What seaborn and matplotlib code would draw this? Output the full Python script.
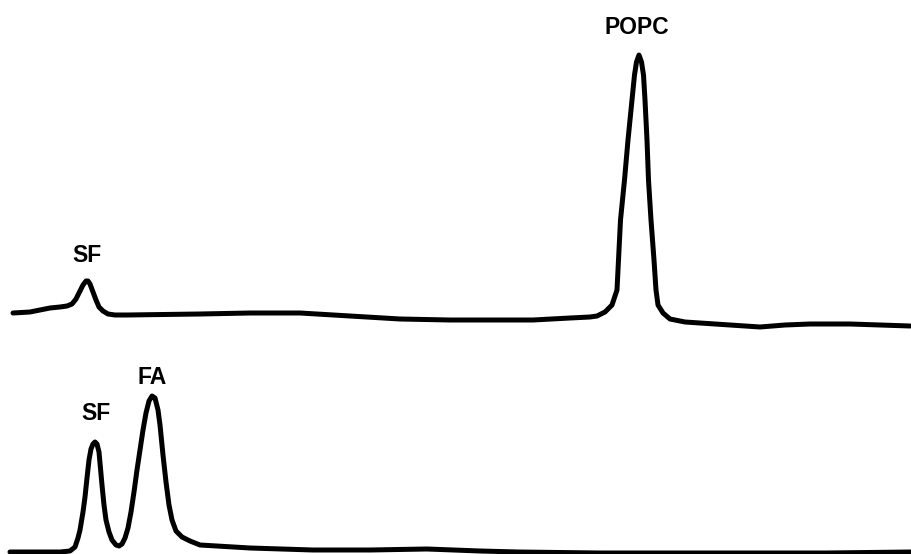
import matplotlib
matplotlib.use("Agg")
import matplotlib.pyplot as plt
import seaborn as sns
import pandas as pd

# Upper trace (POPC run): retention position and detector response
top_time = [13, 30, 50, 60, 67, 72, 76, 80, 83, 86, 88, 90, 93, 96, 99, 103, 108,
            115, 127, 200, 250, 300, 350, 400, 450, 500, 533, 570, 590, 597, 605,
            612, 617, 618.5, 620.5, 624.5, 628, 632, 634.5, 636.5, 639, 641.5,
            643.5, 645, 647, 648.5, 651, 654, 656, 658, 663, 670, 685, 700, 730,
            760, 785, 810, 850, 880, 910]
top_resp = [241, 242, 246, 247, 248, 250, 255, 263, 269, 273, 273, 270, 262, 254, 247, 243, 240,
            239, 239, 240, 241, 241, 238, 235, 234, 234, 234, 236, 237, 238, 242,
            249, 264, 294, 334, 374, 414, 454, 479, 492, 499, 492,
            479, 454, 414, 374, 334, 294, 264, 249, 241, 235, 232, 231, 229,
            227, 229, 230, 230, 229, 228]

# Lower trace (SF + FA run)
bot_time = [10, 40, 60, 70, 75, 78, 80, 83, 85, 87, 89, 91, 93, 95, 97, 99, 100,
            102, 104, 106, 109, 112, 116, 119, 122, 125, 128, 131, 134, 137, 140,
            143, 146, 149, 152, 155, 158, 160, 163, 166, 169, 172, 176, 182, 190,
            200, 250, 313, 370, 427, 480, 518, 600, 700, 827, 911]
bot_resp = [2, 2, 2, 3, 7, 16, 24, 42, 57, 76, 94, 105, 110, 112, 110, 102, 91,
            69, 49, 34, 22, 14, 9, 8, 10, 16, 26, 42, 62, 84, 104,
            124, 141, 153, 158, 156, 144, 129, 99, 72, 49, 34, 23, 17, 13,
            9, 6, 4, 4, 5, 3, 2, 1, 1, 1, 2]

# Peak labels
labels = ["SF", "POPC", "FA", "SF"]
label_time = [87, 637, 152, 96]
label_resp = [298, 527, 177, 141]

df = pd.concat([
    pd.DataFrame({"time": top_time, "resp": top_resp, "trace": "top"}),
    pd.DataFrame({"time": bot_time, "resp": bot_resp, "trace": "bottom"}),
])

sns.set_style("white")
plt.rcParams["font.family"] = ["Liberation Sans", "DejaVu Sans"]

fig = plt.figure(figsize=(9.11, 5.54), dpi=100)
ax = fig.add_axes([0, 0, 1, 1])
for name, g in df.groupby("trace"):
    sns.lineplot(data=g, x="time", y="resp", sort=False, estimator=None,
                 color="black", linewidth=3.6, ax=ax, legend=False,
                 solid_joinstyle="round", solid_capstyle="round")

for t, x, y in zip(labels, label_time, label_resp):
    ax.text(x, y, t, ha="center", va="center", fontsize=16.5,
            fontweight="bold", color="black")

ax.set_xlim(0, 911)
ax.set_ylim(0, 554)
ax.axis("off")
fig.savefig("out.png", dpi=100, facecolor="white")
